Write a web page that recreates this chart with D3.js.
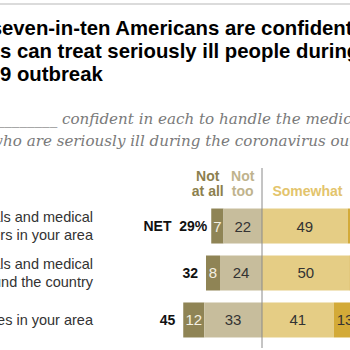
<!DOCTYPE html>
<html>
<head>
<meta charset="utf-8">
<script src="https://cdn.jsdelivr.net/npm/d3@7"></script>
<style>
  html, body { margin: 0; padding: 0; background: #fff; overflow: hidden; }
  svg { display: block; }
</style>
</head>
<body>
<script>
// ---- data ----
const categories = [
  "Hospitals and medical centers in your area",
  "Hospitals and medical centers around the country",
  "Testing and medical supplies in your area"
];
const rowLabelLines = [
  ["Hospitals and medical", "centers in your area"],
  ["Hospitals and medical", "centers around the country"],
  ["Testing and medical supplies in your area"]
];
const notAtAll = [7, 8, 12];
const notToo   = [22, 24, 33];
const somewhat = [49, 50, 41];
const very     = [21, 17, 13];
const netNotConfident = [29, 32, 45];
const seriesNames = ["Not at all", "Not too", "Somewhat", "Very"];
const headerLines = [["Not", "at all"], ["Not", "too"], ["Somewhat"]];

const titleLines = [
  { text: "About seven-in-ten Americans are confident", hidden: "About s", visibleAt: 2 },
  { text: "hospitals can treat seriously ill people during", hidden: "hospital", visibleAt: 0 },
  { text: "COVID-19 outbreak", hidden: "COVID-1", visibleAt: 0 }
];
const subtitleLines = [
  { text: "% who are ____________ confident in each to handle the medical needs of people", hidden: "% who are ____________ c", visibleAt: 62 },
  { text: "who are seriously ill during the coronavirus outbreak", hidden: "w", visibleAt: 3 }
];

// ---- layout ----
const W = 350, H = 350;
const colors = ["#8f8455", "#c7bd9c", "#e5cd85", "#d3aa38"];
const headerColors = ["#8c7f4e", "#bfb38d", "#e3c46c"];
const labelColors = ["#f4f0e2", "#333333", "#333333", "#333333"];

const svg = d3.select("body").append("svg").attr("width", W).attr("height", H);

const x = d3.scaleLinear().domain([-60, 60]).range([157, 367]);
const y = d3.scaleBand().domain(categories).range([202.5, 343.5]).paddingInner(0.255).paddingOuter(0.128);

function measure(g, str) {
  const p = g.append("text").text(str).attr("visibility", "hidden");
  const w = p.node().getComputedTextLength();
  p.remove();
  return w;
}

// top rule
svg.append("line").attr("x1", 0).attr("x2", W).attr("y1", 4).attr("y2", 4)
  .attr("stroke", "#cfcfcf").attr("stroke-width", 1.5);

// title (font size fitted so the visible run matches the reference width)
const titleG = svg.append("g")
  .attr("font-family", "'Liberation Sans', Arial, sans-serif")
  .attr("font-weight", "bold").attr("font-size", 10).attr("fill", "#000");
const tfs = 10 * 344 / measure(titleG, "even-in-ten Americans are confiden");
titleG.attr("font-size", tfs);
const titleBase = [35, 58, 81];
titleLines.forEach((t, i) => {
  const w = measure(titleG, t.hidden);
  titleG.append("text").attr("x", t.visibleAt - w).attr("y", titleBase[i]).text(t.text);
});

// subtitle
const subG = svg.append("g")
  .attr("font-family", "Georgia, 'DejaVu Serif', serif")
  .attr("font-style", "italic").attr("font-size", 10).attr("fill", "#7a7a7a");
const sfs = 10 * 290 / measure(subG, "confident in each to handle the medic");
subG.attr("font-size", sfs);
const subBase = [124, 146];
subtitleLines.forEach((t, i) => {
  const w = measure(subG, t.hidden) - (i === 0 ? measure(subG, "c") : 0);
  subG.append("text").attr("x", t.visibleAt - w).attr("y", subBase[i]).text(t.text);
});

// headers
const headerX = [x(-31), x(-11), x(26)];
const hdrG = svg.append("g")
  .attr("font-family", "'Liberation Sans', Arial, sans-serif")
  .attr("font-weight", "bold").attr("font-size", 14).attr("text-anchor", "middle");
headerLines.forEach((lines, i) => {
  const n = lines.length;
  lines.forEach((ln, j) => {
    hdrG.append("text").attr("x", headerX[i]).attr("y", 196 - (n - 1 - j) * 15)
      .attr("fill", headerColors[i]).text(ln);
  });
});

// bars
const rows = categories.map((c, i) => {
  const a = notAtAll[i], b = notToo[i], s = somewhat[i], v = very[i];
  return {
    cat: c,
    segs: [
      { k: 0, x0: -(a + b), x1: -b, v: a },
      { k: 1, x0: -b, x1: 0, v: b },
      { k: 2, x0: 0, x1: s, v: s },
      { k: 3, x0: s, x1: s + v, v: v }
    ]
  };
});

const rowG = svg.append("g").selectAll("g").data(rows).join("g")
  .attr("transform", d => `translate(0,${y(d.cat)})`);

rowG.selectAll("rect").data(d => d.segs).join("rect")
  .attr("x", d => x(d.x0)).attr("width", d => x(d.x1) - x(d.x0))
  .attr("y", 0).attr("height", y.bandwidth())
  .attr("fill", d => colors[d.k]);

rowG.selectAll("text.val").data(d => d.segs).join("text")
  .attr("class", "val")
  .attr("x", d => (x(d.x0) + x(d.x1)) / 2)
  .attr("y", y.bandwidth() / 2 + 5.5)
  .attr("text-anchor", "middle")
  .attr("font-family", "'Liberation Sans', Arial, sans-serif")
  .attr("font-size", 15)
  .attr("fill", d => labelColors[d.k])
  .text(d => d.v);

// NET labels
rowG.append("text")
  .attr("x", (d, i) => x(-(notAtAll[i] + notToo[i])) - (i === 0 ? 4 : 8))
  .attr("y", y.bandwidth() / 2 + 5)
  .attr("text-anchor", "end")
  .attr("font-family", "'Liberation Sans', Arial, sans-serif")
  .attr("font-weight", "bold").attr("font-size", 14).attr("fill", "#111")
  .text((d, i) => i === 0 ? `NET  ${netNotConfident[i]}%` : `${netNotConfident[i]}`)
  .attr("xml:space", "preserve").style("white-space", "pre");

// row labels
rowG.each(function (d, i) {
  const lines = rowLabelLines[i];
  const n = lines.length;
  const g = d3.select(this);
  lines.forEach((ln, j) => {
    g.append("text")
      .attr("x", 93)
      .attr("y", y.bandwidth() / 2 + 5 + (j - (n - 1) / 2) * 18)
      .attr("text-anchor", "end")
      .attr("font-family", "'Liberation Sans', Arial, sans-serif")
      .attr("font-size", 14.5).attr("fill", "#333")
      .text(ln);
  });
});

// zero axis line
svg.append("line").attr("x1", x(0)).attr("x2", x(0)).attr("y1", 168).attr("y2", 348)
  .attr("stroke", "#8a8a8a").attr("stroke-width", 1);
</script>
</body>
</html>
